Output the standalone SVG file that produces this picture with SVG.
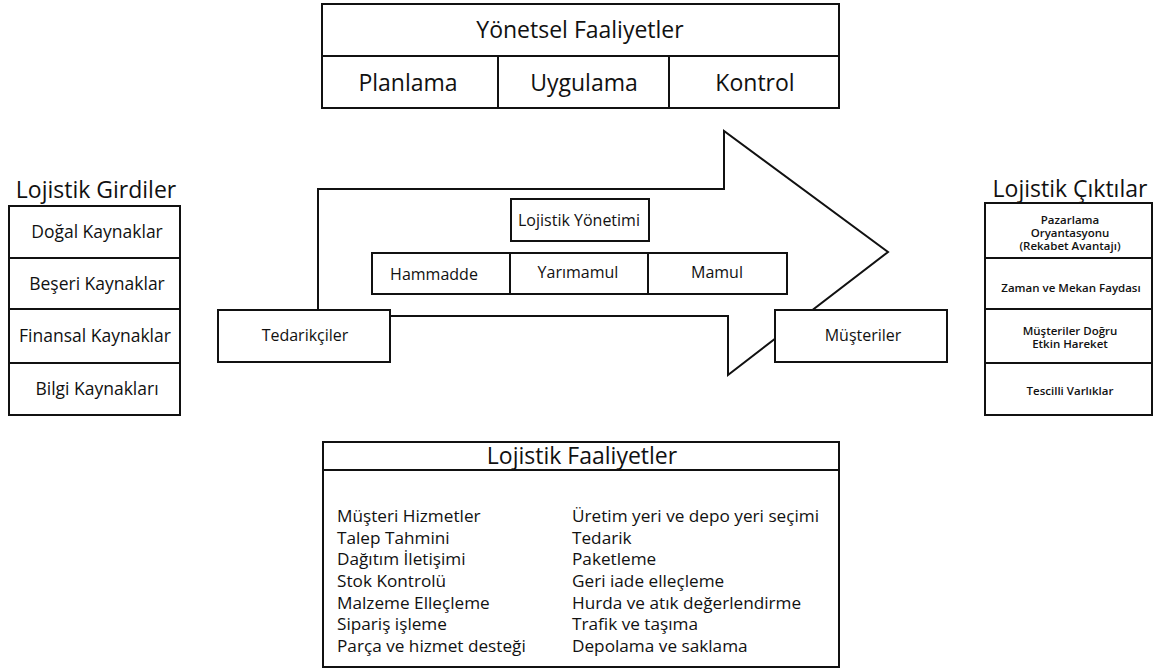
<svg xmlns="http://www.w3.org/2000/svg" width="1165" height="671" viewBox="0 0 1165 671">
  <style>
    .box { fill: #ffffff; stroke: #111111; stroke-width: 2; }
    .ln { fill: none; stroke: #111111; stroke-width: 2; }
    text { font-family: "Open Sans", "Liberation Sans", sans-serif; fill: #111111; }
    .big { font-size: 23px; text-anchor: middle; }
    .mid { font-size: 16px; text-anchor: middle; }
    .side { font-size: 17.5px; text-anchor: middle; }
    .sml { font-size: 11.5px; text-anchor: middle; font-weight: 600; }
    .lst { font-size: 17.2px; }
  </style>

  <!-- Yönetsel Faaliyetler -->
  <g id="yonetsel">
    <rect class="box" x="322" y="4" width="517" height="104"/>
    <line class="ln" x1="322" y1="56" x2="839" y2="56"/>
    <line class="ln" x1="498" y1="56" x2="498" y2="108"/>
    <line class="ln" x1="669" y1="56" x2="669" y2="108"/>
    <text class="big" x="580" y="38">Yönetsel Faaliyetler</text>
    <text class="big" x="408" y="91">Planlama</text>
    <text class="big" x="584" y="91">Uygulama</text>
    <text class="big" x="755" y="91">Kontrol</text>
  </g>

  <!-- Flow arrow and its end points -->
  <g id="connectors">
    <polygon class="box" points="318,189 724,189 724,131 888,252 728,375 728,316 318,316"/>
  </g>

  <g id="tedarikciler">
    <rect class="box" x="218" y="310" width="172" height="52"/>
    <text class="mid" x="305" y="341">Tedarikçiler</text>
  </g>

  <g id="musteriler">
    <rect class="box" x="775" y="310" width="172" height="52"/>
    <text class="mid" x="863" y="341">Müşteriler</text>
  </g>

  <g id="lojistik-yonetimi">
    <rect class="box" x="511" y="199" width="138" height="42"/>
    <text class="mid" x="579" y="226">Lojistik  Yönetimi</text>
  </g>

  <g id="urunler">
    <rect class="box" x="372" y="253" width="415" height="41"/>
    <line class="ln" x1="510" y1="253" x2="510" y2="294"/>
    <line class="ln" x1="648" y1="253" x2="648" y2="294"/>
    <text class="mid" x="434" y="280">Hammadde</text>
    <text class="mid" x="578" y="278">Yarımamul</text>
    <text class="mid" x="717" y="278">Mamul</text>
  </g>

  <!-- Lojistik Girdiler -->
  <g id="girdiler">
    <text class="big" x="96" y="198">Lojistik Girdiler</text>
    <rect class="box" x="9" y="206" width="171" height="209"/>
    <line class="ln" x1="9" y1="258" x2="180" y2="258"/>
    <line class="ln" x1="9" y1="309" x2="180" y2="309"/>
    <line class="ln" x1="9" y1="363" x2="180" y2="363"/>
    <text class="side" x="97" y="238">Doğal Kaynaklar</text>
    <text class="side" x="97" y="290">Beşeri Kaynaklar</text>
    <text class="side" x="95" y="342">Finansal Kaynaklar</text>
    <text class="side" x="97" y="395">Bilgi Kaynakları</text>
  </g>

  <!-- Lojistik Çıktılar -->
  <g id="ciktilar">
    <text class="big" x="1070" y="197">Lojistik Çıktılar</text>
    <rect class="box" x="985" y="203" width="167" height="212"/>
    <line class="ln" x1="985" y1="258" x2="1152" y2="258"/>
    <line class="ln" x1="985" y1="309" x2="1152" y2="309"/>
    <line class="ln" x1="985" y1="363" x2="1152" y2="363"/>
    <text class="sml" x="1070" y="224">Pazarlama</text>
    <text class="sml" x="1070" y="237">Oryantasyonu</text>
    <text class="sml" x="1070" y="250">(Rekabet Avantajı)</text>
    <text class="sml" x="1071" y="292">Zaman ve Mekan Faydası</text>
    <text class="sml" x="1070" y="335">Müşteriler Doğru</text>
    <text class="sml" x="1070" y="348">Etkin Hareket</text>
    <text class="sml" x="1070" y="395">Tescilli Varlıklar</text>
  </g>

  <!-- Lojistik Faaliyetler -->
  <g id="faaliyetler">
    <rect class="box" x="323" y="442" width="516" height="225"/>
    <line class="ln" x1="323" y1="470" x2="839" y2="470"/>
    <text class="big" x="582" y="464">Lojistik Faaliyetler</text>
    <g>
      <text class="lst" x="337" y="522">Müşteri Hizmetler</text>
      <text class="lst" x="337" y="544">Talep Tahmini</text>
      <text class="lst" x="337" y="565">Dağıtım İletişimi</text>
      <text class="lst" x="337" y="587">Stok Kontrolü</text>
      <text class="lst" x="337" y="609">Malzeme Elleçleme</text>
      <text class="lst" x="337" y="630">Sipariş işleme</text>
      <text class="lst" x="337" y="652">Parça ve hizmet desteği</text>
      <text class="lst" x="572" y="522">Üretim yeri ve depo yeri seçimi</text>
      <text class="lst" x="572" y="544">Tedarik</text>
      <text class="lst" x="572" y="565">Paketleme</text>
      <text class="lst" x="572" y="587">Geri iade elleçleme</text>
      <text class="lst" x="572" y="609">Hurda ve atık değerlendirme</text>
      <text class="lst" x="572" y="630">Trafik ve taşıma</text>
      <text class="lst" x="572" y="652">Depolama ve saklama</text>
    </g>
  </g>
</svg>
